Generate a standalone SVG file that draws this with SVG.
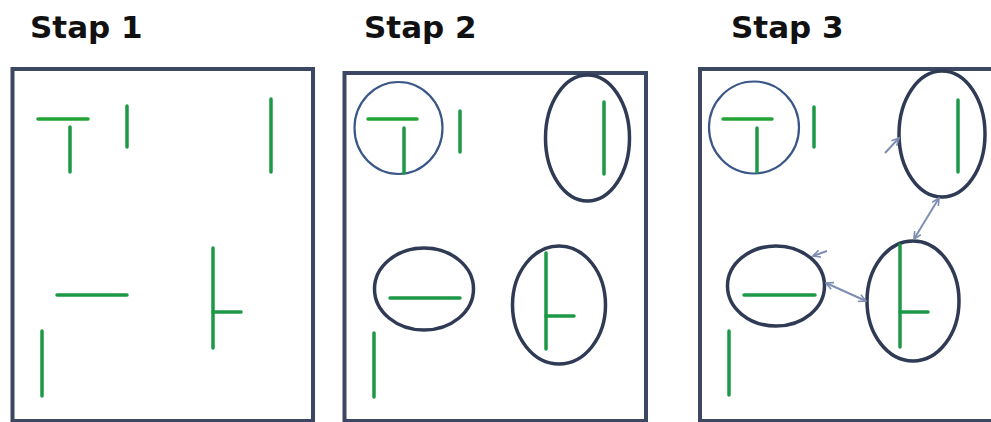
<svg xmlns="http://www.w3.org/2000/svg" width="991" height="422" viewBox="0 0 991 422">
<defs>
<style>
.title{font-family:"DejaVu Sans",Verdana,sans-serif;font-weight:bold;font-size:31px;fill:#111}
.frame{fill:none;stroke:#3b4763;stroke-width:4}
.g{stroke:#1c9846;stroke-width:3.5;stroke-linecap:round;fill:none}
.gl{stroke:#24a436;stroke-width:3.5;stroke-linecap:round;fill:none}
.ring{fill:none;stroke:#2f3a55;stroke-width:3.5}
.ringb{fill:none;stroke:#3a5688;stroke-width:2.2}
.arr{fill:none;stroke:#7d8db3;stroke-width:2}
</style>
<marker id="ah" viewBox="0 0 10 10" refX="9" refY="5" markerWidth="9" markerHeight="9" orient="auto-start-reverse" markerUnits="userSpaceOnUse">
<path d="M1,1 L9,5 L1,9" fill="none" stroke="#7d8db3" stroke-width="1.8"/>
</marker>
</defs>
<rect width="991" height="422" fill="#ffffff"/>

<g id="titles">
<text class="title" x="30" y="38">Stap 1</text>
<text class="title" x="364" y="38">Stap 2</text>
<text class="title" x="731" y="38">Stap 3</text>
</g>

<g id="panel1">
<rect class="frame" x="12.5" y="69" width="300.5" height="352"/>
<g id="p1-T"><line class="gl" x1="38" y1="119" x2="88" y2="119"/><line class="g" x1="70" y1="127" x2="70" y2="172"/></g>
<g id="p1-stick"><line class="g" x1="127" y1="106" x2="127" y2="147"/></g>
<g id="p1-vert"><line class="g" x1="271" y1="99" x2="271" y2="172"/></g>
<g id="p1-horiz"><line class="g" x1="57" y1="295" x2="127" y2="295"/></g>
<g id="p1-low"><line class="g" x1="42" y1="331" x2="42" y2="396"/></g>
<g id="p1-tee"><line class="g" x1="213" y1="248" x2="213" y2="348"/><line class="g" x1="213" y1="312" x2="241" y2="312"/></g>
</g>

<g id="panel2">
<rect class="frame" x="344.5" y="73" width="301.5" height="348"/>
<g id="p2-T"><ellipse class="ringb" cx="398.5" cy="128" rx="44" ry="46"/><line class="gl" x1="368" y1="119" x2="417" y2="119"/><line class="g" x1="404" y1="128" x2="404" y2="173"/></g>
<g id="p2-stick"><line class="g" x1="460" y1="111" x2="460" y2="152"/></g>
<g id="p2-vert"><ellipse class="ring" cx="587.5" cy="138" rx="42" ry="63"/><line class="g" x1="604" y1="102" x2="604" y2="174"/></g>
<g id="p2-horiz"><ellipse class="ring" cx="424" cy="289" rx="49.5" ry="41"/><line class="g" x1="390" y1="298" x2="460" y2="298"/></g>
<g id="p2-low"><line class="g" x1="374" y1="333" x2="374" y2="397"/></g>
<g id="p2-tee"><ellipse class="ring" cx="559" cy="305" rx="46.5" ry="59"/><line class="g" x1="546" y1="253" x2="546" y2="349"/><line class="g" x1="546" y1="316" x2="574" y2="316"/></g>
</g>

<g id="panel3">
<rect class="frame" x="700" y="69" width="310" height="352"/>
<g id="p3-T"><ellipse class="ringb" cx="754" cy="127.5" rx="45" ry="46"/><line class="gl" x1="723" y1="119" x2="772" y2="119"/><line class="g" x1="757" y1="128" x2="757" y2="172"/></g>
<g id="p3-stick"><line class="g" x1="814" y1="107" x2="814" y2="147"/></g>
<g id="p3-vert"><ellipse class="ring" cx="942" cy="134" rx="43" ry="63"/><line class="g" x1="958" y1="100" x2="958" y2="172"/></g>
<g id="p3-horiz"><ellipse class="ring" cx="776" cy="286" rx="48.5" ry="40"/><line class="g" x1="744" y1="295" x2="815" y2="295"/></g>
<g id="p3-low"><line class="g" x1="729" y1="331" x2="729" y2="395"/></g>
<g id="p3-tee"><ellipse class="ring" cx="913" cy="301" rx="46" ry="60"/><line class="g" x1="900" y1="245" x2="900" y2="347"/><line class="g" x1="900" y1="312" x2="928" y2="312"/></g>
</g>

<g id="connectors">
<line class="arr" x1="885" y1="153" x2="899" y2="138" marker-end="url(#ah)"/>
<line class="arr" x1="939" y1="198" x2="914" y2="239" marker-start="url(#ah)" marker-end="url(#ah)"/>
<line class="arr" x1="826" y1="283" x2="866" y2="301" marker-start="url(#ah)" marker-end="url(#ah)"/>
<line class="arr" x1="827" y1="251" x2="813" y2="256" marker-end="url(#ah)"/>
</g>
</svg>
